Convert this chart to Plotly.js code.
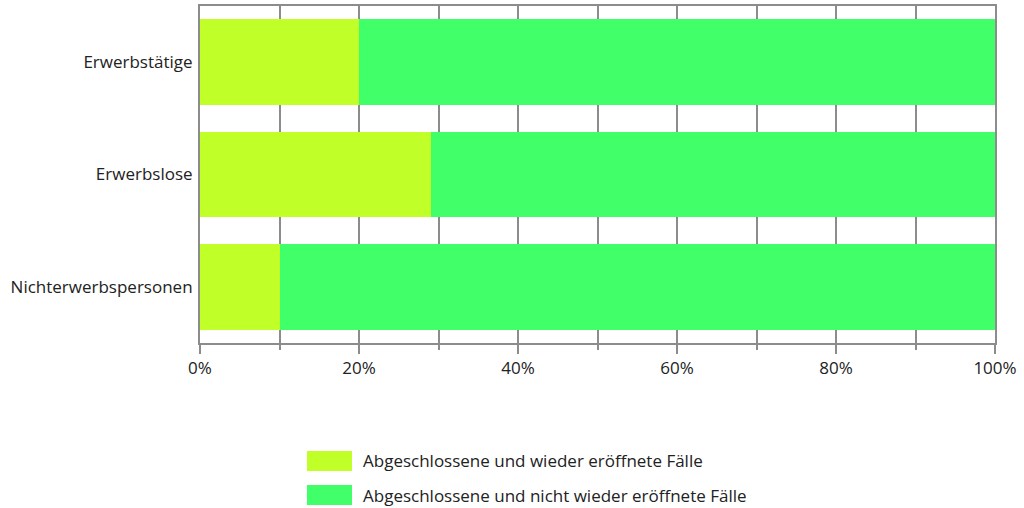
<!DOCTYPE html>
<html>
<head>
<meta charset="utf-8">
<script src="https://cdn.plot.ly/plotly-3.0.1.min.js"></script>
<style>html,body{margin:0;padding:0;background:#fff;}#chart{width:1024px;height:508px;}</style>
</head>
<body>
<div id="chart"></div>
<script>
const categories = ["Erwerbstätige", "Erwerbslose", "Nichterwerbspersonen"];
const seriesNames = ["Abgeschlossene und wieder eröffnete Fälle", "Abgeschlossene und nicht wieder eröffnete Fälle"];
const reopened = [0.20, 0.29, 0.10];
const notReopened = [0.80, 0.71, 0.90];
const colors = ["#c0ff28", "#40ff68"];
const tickVals = [0, 0.2, 0.4, 0.6, 0.8, 1.0];
const tickLabels = ["0%", "20%", "40%", "60%", "80%", "100%"];

const W = 1024, H = 508;
const m = {l: 200, r: 29, t: 6, b: 165};
const pw = W - m.l - m.r, ph = H - m.t - m.b;
const px = x => (x - m.l) / pw;
const py = y => (H - m.b - y) / ph;

const font = {family: "Open Sans, sans-serif", size: 17, color: "#222"};

const traces = [reopened, notReopened].map((vals, i) => ({
  type: "bar",
  orientation: "h",
  y: categories,
  x: vals,
  name: seriesNames[i],
  marker: {color: colors[i], line: {width: 0}},
  hoverinfo: "x+y+name"
}));

const shapes = [], annotations = [];
const legendRows = [461, 495];
seriesNames.forEach((n, i) => {
  const cy = legendRows[i];
  shapes.push({type: "rect", xref: "paper", yref: "paper",
    x0: px(307), x1: px(352), y0: py(cy - 10), y1: py(cy + 10),
    fillcolor: colors[i], line: {width: 0}});
  annotations.push({xref: "paper", yref: "paper", x: px(361), y: py(cy),
    xanchor: "left", yanchor: "middle", text: n, showarrow: false, font: font});
});

const layout = {
  width: W, height: H,
  margin: m,
  barmode: "stack",
  bargap: 0.24,
  showlegend: false,
  paper_bgcolor: "#fff",
  plot_bgcolor: "#fff",
  font: font,
  xaxis: {
    range: [0, 1],
    tickvals: tickVals,
    ticktext: tickLabels,
    ticks: "outside",
    ticklen: 9,
    tickwidth: 2,
    tickcolor: "#8c8c8c",
    showgrid: true,
    gridcolor: "#8c8c8c",
    gridwidth: 2,
    showline: true,
    linecolor: "#8c8c8c",
    linewidth: 2,
    mirror: true,
    zeroline: false,
    fixedrange: true,
    tickfont: font,
    minor: {dtick: 0.1, tick0: 0, ticks: "outside", ticklen: 5, tickwidth: 2, tickcolor: "#8c8c8c", showgrid: true, gridcolor: "#8c8c8c", gridwidth: 2}
  },
  yaxis: {
    type: "category",
    categoryorder: "array",
    categoryarray: categories,
    autorange: "reversed",
    ticks: "",
    ticklabelstandoff: 2,
    showline: true,
    linecolor: "#8c8c8c",
    linewidth: 2,
    mirror: true,
    showgrid: false,
    zeroline: false,
    fixedrange: true,
    tickfont: font
  },
  shapes: shapes,
  annotations: annotations
};

Plotly.newPlot("chart", traces, layout, {displayModeBar: false, staticPlot: true});
</script>
</body>
</html>
